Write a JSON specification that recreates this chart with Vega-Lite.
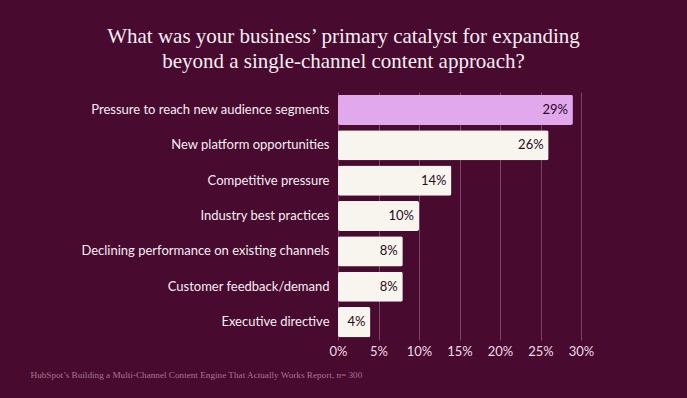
{
  "$schema": "https://vega.github.io/schema/vega-lite/v6.json",
  "width": 243,
  "height": 248,
  "autosize": {"type": "none"},
  "padding": {"left": 338, "top": 92, "right": 106, "bottom": 58},
  "background": "#480a2e",
  "config": {"view": {"stroke": null}},
  "title": {
    "text": ["What was your business’ primary catalyst for expanding", "beyond a single-channel content approach?"],
    "font": "Liberation Serif",
    "fontSize": 21,
    "fontWeight": "normal",
    "color": "#f6eef3",
    "lineHeight": 25,
    "anchor": "middle",
    "dx": -116,
    "offset": 20
  },
  "data": {
    "values": [
      {"reason": "Pressure to reach new audience segments", "pct": 0.29, "highlight": true},
      {"reason": "New platform opportunities", "pct": 0.26, "highlight": false},
      {"reason": "Competitive pressure", "pct": 0.14, "highlight": false},
      {"reason": "Industry best practices", "pct": 0.10, "highlight": false},
      {"reason": "Declining performance on existing channels", "pct": 0.08, "highlight": false},
      {"reason": "Customer feedback/demand", "pct": 0.08, "highlight": false},
      {"reason": "Executive directive", "pct": 0.04, "highlight": false}
    ]
  },
  "encoding": {
    "y": {
      "field": "reason",
      "type": "nominal",
      "sort": null,
      "scale": {"paddingInner": 0.15, "paddingOuter": 0.08},
      "axis": {
        "title": null,
        "domain": false,
        "ticks": false,
        "labelFont": "Lato",
        "labelFontSize": 13,
        "labelColor": "#f6eef3",
        "labelPadding": 9,
        "labelLimit": 320
      }
    },
    "x": {
      "field": "pct",
      "type": "quantitative",
      "scale": {"domain": [0, 0.3]},
      "axis": {
        "values": [0, 0.05, 0.1, 0.15, 0.2, 0.25, 0.3],
        "format": ".0%",
        "labelFlush": false,
        "domain": false,
        "ticks": false,
        "grid": true,
        "gridColor": "#7d4467",
        "gridWidth": 1,
        "labelFont": "Lato",
        "labelFontSize": 13,
        "labelColor": "#f0dce8",
        "labelPadding": 5,
        "title": "HubSpot’s Building a Multi-Channel Content Engine That Actually Works Report, n= 300",
        "titleFont": "Liberation Serif",
        "titleFontSize": 9.2,
        "titleFontWeight": "normal",
        "titleColor": "#a97593",
        "titleAnchor": "start",
        "titleAlign": "left",
        "titleX": -308,
        "titleY": 34,
        "titleBaseline": "middle"
      }
    }
  },
  "layer": [
    {
      "mark": {"type": "bar", "cornerRadius": 2},
      "encoding": {
        "color": {
          "field": "highlight",
          "type": "nominal",
          "scale": {"domain": [true, false], "range": ["#e2a8ec", "#f8f5ef"]},
          "legend": null
        }
      }
    },
    {
      "mark": {"type": "text", "align": "right", "dx": -5, "font": "Lato", "fontSize": 13, "color": "#2a0a1c"},
      "encoding": {
        "text": {"field": "pct", "type": "quantitative", "format": ".0%"},
        "detail": {"field": "reason"}
      }
    }
  ]
}
